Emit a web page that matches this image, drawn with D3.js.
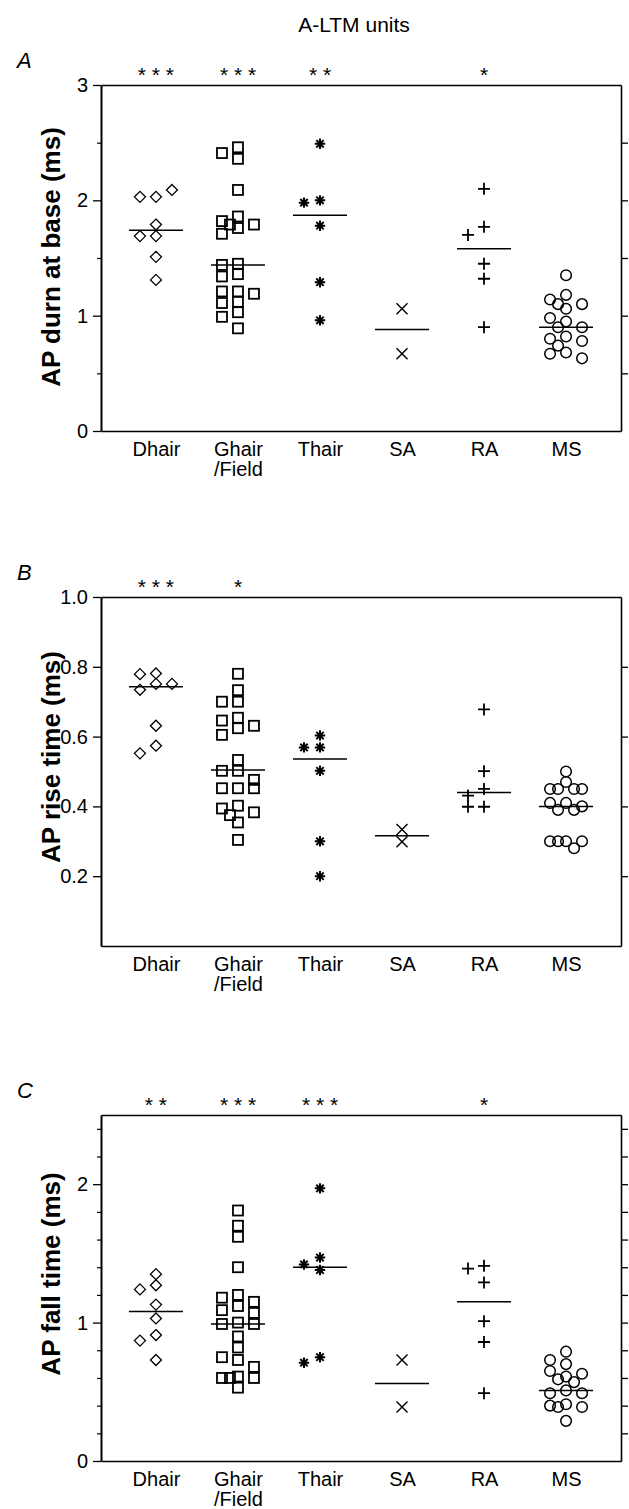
<!DOCTYPE html>
<html><head><meta charset="utf-8">
<script src="https://cdn.jsdelivr.net/npm/d3@7"></script>
<style>body{margin:0;background:#fff} svg{display:block}</style>
</head><body><svg id="c" width="629" height="1509"></svg>
<script>
const categories = ["Dhair", "Ghair\n/Field", "Thair", "SA", "RA", "MS"];
const chartTitle = "A-LTM units";

// Panel A: AP duration at base (ms)
const durnDhair = [2.03, 2.03, 2.09, 1.79, 1.69, 1.69, 1.51, 1.31];
const durnGhair = [2.46, 2.41, 2.36, 2.09, 1.86, 1.82, 1.79, 1.79, 1.76, 1.71, 1.45, 1.44, 1.36, 1.34, 1.21, 1.21, 1.19, 1.12, 1.11, 1.03, 0.99, 0.89];
const durnThair = [2.49, 2.00, 1.98, 1.78, 1.29, 0.96];
const durnSA = [1.06, 0.67];
const durnRA = [2.10, 1.77, 1.70, 1.45, 1.32, 0.90];
const durnMS = [1.35, 1.18, 1.14, 1.10, 1.10, 1.06, 0.98, 0.95, 0.90, 0.90, 0.82, 0.80, 0.78, 0.74, 0.68, 0.67, 0.63];
const durnMean = [1.74, 1.44, 1.87, 0.88, 1.58, 0.90];
const durnSig = ["***", "***", "**", "", "*", ""];
const durnTicks = [0, 1, 2, 3];
const durnMinor = [0.5, 1.5, 2.5];
const durnRight = [0.5, 1, 1.5, 2, 2.5];

// Panel B: AP rise time (ms)
const riseDhair = [0.781, 0.779, 0.751, 0.751, 0.734, 0.631, 0.574, 0.552];
const riseGhair = [0.78, 0.733, 0.70, 0.70, 0.654, 0.646, 0.631, 0.624, 0.605, 0.533, 0.502, 0.502, 0.476, 0.452, 0.452, 0.452, 0.402, 0.394, 0.383, 0.375, 0.354, 0.304];
const riseThair = [0.603, 0.569, 0.569, 0.502, 0.30, 0.20];
const riseSA = [0.334, 0.299];
const riseRA = [0.678, 0.501, 0.45, 0.431, 0.399, 0.399];
const riseMS = [0.50, 0.47, 0.45, 0.45, 0.45, 0.45, 0.41, 0.41, 0.40, 0.39, 0.39, 0.30, 0.30, 0.30, 0.30, 0.28];
const riseMean = [0.743, 0.504, 0.536, 0.316, 0.44, 0.40];
const riseSig = ["***", "*", "", "", "", ""];
const riseTicks = [0.2, 0.4, 0.6, 0.8, 1.0];
const riseMinor = [];
const riseRight = [0.2, 0.4, 0.6, 0.8];

// Panel C: AP fall time (ms)
const fallDhair = [1.35, 1.27, 1.24, 1.13, 1.03, 0.91, 0.87, 0.73];
const fallGhair = [1.81, 1.70, 1.62, 1.40, 1.20, 1.18, 1.15, 1.12, 1.09, 1.07, 1.00, 0.99, 0.99, 0.90, 0.82, 0.75, 0.73, 0.68, 0.61, 0.60, 0.60, 0.60, 0.53];
const fallThair = [1.97, 1.47, 1.42, 1.38, 0.75, 0.71];
const fallSA = [0.73, 0.39];
const fallRA = [1.41, 1.39, 1.29, 1.01, 0.86, 0.49];
const fallMS = [0.79, 0.73, 0.70, 0.65, 0.63, 0.61, 0.59, 0.57, 0.51, 0.49, 0.49, 0.41, 0.40, 0.39, 0.39, 0.29];
const fallMean = [1.08, 0.99, 1.40, 0.56, 1.15, 0.51];
const fallSig = ["**", "***", "***", "", "*", ""];
const fallTicks = [0, 1, 2];
const fallMinor = [0.2, 0.4, 0.6, 0.8, 1.2, 1.4, 1.6, 1.8, 2.2, 2.4];
const fallRight = [0.2, 0.4, 0.6, 0.8, 1.0, 1.2, 1.4, 1.6, 1.8, 2.0, 2.2, 2.4];

const markerShapes = ["diamond", "square", "star", "cross", "plus", "circle"];

const FONT = "'Liberation Sans', Arial, Helvetica, sans-serif";
const svg = d3.select("#c");
const LEFT = 101, RIGHT = 621;

const x = d3.scalePoint().domain(d3.range(categories.length)).range([LEFT, RIGHT]).padding(0.67);

svg.append("text").attr("x", 354).attr("y", 32).attr("text-anchor", "middle")
  .attr("font-family", FONT).attr("font-size", 21).text(chartTitle);

const panels = [
  {letter: "A", top: 85, bottom: 431, domain: [0, 3], ytitle: "AP durn at base (ms)", titleY: 257,
   groups: [durnDhair, durnGhair, durnThair, durnSA, durnRA, durnMS], means: durnMean, sig: durnSig,
   major: durnTicks, minor: durnMinor, right: durnRight, fmt: d3.format("d")},
  {letter: "B", top: 597, bottom: 946, domain: [0, 1], ytitle: "AP rise time (ms)", titleY: 757,
   groups: [riseDhair, riseGhair, riseThair, riseSA, riseRA, riseMS], means: riseMean, sig: riseSig,
   major: riseTicks, minor: riseMinor, right: riseRight, fmt: d3.format(".1f")},
  {letter: "C", top: 1115, bottom: 1461, domain: [0, 2.5], ytitle: "AP fall time (ms)", titleY: 1274,
   groups: [fallDhair, fallGhair, fallThair, fallSA, fallRA, fallMS], means: fallMean, sig: fallSig,
   major: fallTicks, minor: fallMinor, right: fallRight, fmt: d3.format("d")}
];

// simple dodge: place each value in the first free slot, else the least crowded slot
function dodge(vals, y, cx, slot, thr) {
  const placed = [];
  const order = [0, -2, 2, -1, 1];
  return vals.map(v => {
    const py = y(v);
    let best = null, bestD = -1;
    for (const k of order) {
      const px = cx + k * slot;
      const dmin = placed.length ? d3.min(placed, p => Math.hypot(p[0] - px, p[1] - py)) : Infinity;
      if (dmin >= thr) { best = px; break; }
      if (dmin > bestD) { bestD = dmin; best = px; }
    }
    placed.push([best, py]);
    return [best, py];
  });
}

function drawMarker(g, shape, px, py) {
  const s = g.append("g").attr("transform", `translate(${px},${py})`)
    .attr("fill", "none").attr("stroke", "#000");
  if (shape === "diamond") {
    s.append("path").attr("d", "M0,-5.5L5.5,0L0,5.5L-5.5,0Z").attr("stroke-width", 1.3);
  } else if (shape === "square") {
    s.append("rect").attr("x", -5).attr("y", -5).attr("width", 10).attr("height", 10).attr("stroke-width", 1.8);
  } else if (shape === "star") {
    const r = 5.2;
    let d = "";
    for (let i = 0; i < 4; i++) {
      const a = i * Math.PI / 4;
      d += `M${-r * Math.cos(a)},${-r * Math.sin(a)}L${r * Math.cos(a)},${r * Math.sin(a)}`;
    }
    s.append("path").attr("d", d).attr("stroke-width", 2);
  } else if (shape === "cross") {
    s.append("path").attr("d", "M-5.5,-5.5L5.5,5.5M-5.5,5.5L5.5,-5.5").attr("stroke-width", 1.4);
  } else if (shape === "plus") {
    s.append("path").attr("d", "M-6,0L6,0M0,-6L0,6").attr("stroke-width", 1.8);
  } else {
    s.append("circle").attr("r", 5.3).attr("stroke-width", 1.5);
  }
}

panels.forEach(p => {
  const y = d3.scaleLinear().domain(p.domain).range([p.bottom, p.top]);
  const g = svg.append("g");

  // panel letter
  g.append("text").attr("x", 17).attr("y", p.top - 17).attr("font-family", FONT)
    .attr("font-style", "italic").attr("font-size", 22).text(p.letter);

  // y title
  g.append("text").attr("transform", `translate(51,${p.titleY}) rotate(-90)`)
    .attr("text-anchor", "middle").attr("dominant-baseline", "central")
    .attr("font-family", FONT).attr("font-weight", "bold").attr("font-size", 26).text(p.ytitle);

  // left axis
  const la = g.append("g").attr("transform", `translate(${LEFT},0)`)
    .call(d3.axisLeft(y).tickValues(p.major).tickFormat(p.fmt).tickSize(8).tickPadding(5).tickSizeOuter(0));
  la.select(".domain").attr("stroke-width", 2);
  la.selectAll(".tick line").attr("stroke-width", 1.3);
  la.selectAll("text").attr("font-family", FONT).attr("font-size", 20);
  if (p.minor.length) {
    const lm = g.append("g").attr("transform", `translate(${LEFT},0)`)
      .call(d3.axisLeft(y).tickValues(p.minor).tickFormat("").tickSize(4).tickSizeOuter(0));
    lm.select(".domain").remove();
    lm.selectAll(".tick line").attr("stroke-width", 1.2);
  }

  // right axis
  const ra = g.append("g").attr("transform", `translate(${RIGHT},0)`)
    .call(d3.axisRight(y).tickValues(p.right).tickFormat("").tickSize(7).tickSizeOuter(0));
  ra.select(".domain").attr("stroke-width", 1.6);
  ra.selectAll(".tick line").attr("stroke-width", 1.3);

  // top line
  const ta = g.append("g").attr("transform", `translate(0,${p.top})`)
    .call(d3.axisTop(x).tickValues([]).tickSizeOuter(0));
  ta.select(".domain").attr("stroke-width", 1.6);

  // bottom axis with category labels
  const ba = g.append("g").attr("transform", `translate(0,${p.bottom})`)
    .call(d3.axisBottom(x).tickSize(0).tickSizeOuter(0).tickPadding(10).tickFormat(i => categories[i]));
  ba.select(".domain").attr("stroke-width", 1.6);
  ba.selectAll(".tick text").each(function(i) {
    const t = d3.select(this);
    const lines = categories[i].split("\n");
    t.text(null).attr("font-family", FONT).attr("font-size", 20).attr("dy", null).attr("y", 25);
    lines.forEach((ln, k) => t.append("tspan").attr("x", 0).attr("dy", k === 0 ? 0 : 20).text(ln));
  });

  // significance stars
  g.selectAll(".sig").data(p.sig).join("text")
    .attr("x", (d, i) => x(i)).attr("y", p.top - 3).attr("text-anchor", "middle")
    .attr("font-family", FONT).attr("font-size", 21).text(d => d.split("").join(" "));

  // points
  p.groups.forEach((vals, i) => {
    const pts = dodge(vals, y, x(i), 8, 10);
    pts.forEach(([px, py]) => drawMarker(g, markerShapes[i], px, py));
  });

  // mean lines
  g.selectAll(".mean").data(p.means).join("line")
    .attr("x1", (d, i) => x(i) - 27).attr("x2", (d, i) => x(i) + 27)
    .attr("y1", d => y(d)).attr("y2", d => y(d))
    .attr("stroke", "#000").attr("stroke-width", 1.5);
});
</script>
</body></html>
